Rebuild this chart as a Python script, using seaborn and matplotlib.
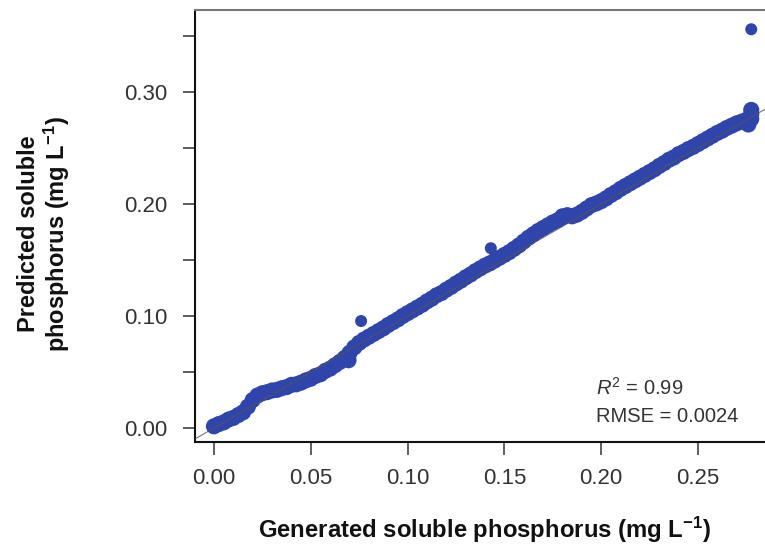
import matplotlib
matplotlib.use("Agg")
import matplotlib.pyplot as plt
import seaborn as sns
import pandas as pd

# Generated (x) vs predicted (y) soluble phosphorus, mg L-1
# Main band of points
generated = [
    0.0000, 0.0025, 0.0050, 0.0075, 0.0100, 0.0125, 0.0150, 0.0175, 0.0200, 0.0225,
    0.0250, 0.0275, 0.0300, 0.0325, 0.0350, 0.0375, 0.0400, 0.0425, 0.0450, 0.0475,
    0.0500, 0.0525, 0.0550, 0.0575, 0.0600, 0.0625, 0.0650, 0.0675, 0.0700, 0.0725,
    0.0750, 0.0775, 0.0800, 0.0825, 0.0850, 0.0875, 0.0900, 0.0925, 0.0950, 0.0975,
    0.1000, 0.1025, 0.1050, 0.1075, 0.1100, 0.1125, 0.1150, 0.1175, 0.1200, 0.1225,
    0.1250, 0.1275, 0.1300, 0.1325, 0.1350, 0.1375, 0.1400, 0.1425, 0.1450, 0.1475,
    0.1500, 0.1525, 0.1550, 0.1575, 0.1600, 0.1625, 0.1650, 0.1675, 0.1700, 0.1725,
    0.1750, 0.1775, 0.1800, 0.1825, 0.1850, 0.1875, 0.1900, 0.1925, 0.1950, 0.1975,
    0.2000, 0.2025, 0.2050, 0.2075, 0.2100, 0.2125, 0.2150, 0.2175, 0.2200, 0.2225,
    0.2250, 0.2275, 0.2300, 0.2325, 0.2350, 0.2375, 0.2400, 0.2425, 0.2450, 0.2475,
    0.2500, 0.2525, 0.2550, 0.2575, 0.2600, 0.2625, 0.2650, 0.2675, 0.2700, 0.2725,
    0.2750, 0.2775, 0.2775, 0.2775, 0.2760, 0.0695, 0.1800,
]
predicted = [
    0.0015, 0.0035, 0.0050, 0.0075, 0.0090, 0.0115, 0.0140, 0.0190, 0.0250, 0.0290,
    0.0310, 0.0320, 0.0335, 0.0340, 0.0355, 0.0365, 0.0385, 0.0390, 0.0405, 0.0425,
    0.0440, 0.0465, 0.0480, 0.0510, 0.0530, 0.0560, 0.0590, 0.0625, 0.0670, 0.0720,
    0.0760, 0.0790, 0.0815, 0.0840, 0.0865, 0.0890, 0.0920, 0.0945, 0.0970, 0.1000,
    0.1025, 0.1050, 0.1075, 0.1100, 0.1130, 0.1155, 0.1185, 0.1205, 0.1235, 0.1260,
    0.1290, 0.1315, 0.1345, 0.1370, 0.1400, 0.1425, 0.1450, 0.1470, 0.1495, 0.1520,
    0.1545, 0.1570, 0.1600, 0.1630, 0.1665, 0.1700, 0.1730, 0.1760, 0.1785, 0.1810,
    0.1835, 0.1855, 0.1880, 0.1900, 0.1890, 0.1905, 0.1930, 0.1960, 0.1990, 0.2005,
    0.2025, 0.2050, 0.2080, 0.2105, 0.2135, 0.2160, 0.2185, 0.2210, 0.2235, 0.2260,
    0.2285, 0.2310, 0.2340, 0.2365, 0.2395, 0.2415, 0.2445, 0.2465, 0.2490, 0.2510,
    0.2535, 0.2560, 0.2585, 0.2610, 0.2635, 0.2655, 0.2680, 0.2700, 0.2720, 0.2735,
    0.2750, 0.2760, 0.2800, 0.2840, 0.2710, 0.0605, 0.1890,
]
# Isolated points off the band
outlier_generated = [0.0760, 0.1430, 0.2775]
outlier_predicted = [0.0955, 0.1605, 0.3560]

x_ticks = [0.00, 0.05, 0.10, 0.15, 0.20, 0.25]
y_major = [0.00, 0.10, 0.20, 0.30]
y_minor = [0.05, 0.15, 0.25, 0.35]
stats_lines = ["$\\mathit{R}^{2}$ = 0.99", "RMSE = 0.0024"]

band = pd.DataFrame({"Generated": generated, "Predicted": predicted})
outliers = pd.DataFrame({"Generated": outlier_generated, "Predicted": outlier_predicted})

sns.set_style("white")
plt.rcParams["font.family"] = ["Liberation Sans", "DejaVu Sans"]
plt.rcParams["mathtext.fontset"] = "custom"
plt.rcParams["mathtext.rm"] = "Liberation Sans"
plt.rcParams["mathtext.it"] = "Liberation Sans:italic"
plt.rcParams["mathtext.bf"] = "Liberation Sans:bold"

fig = plt.figure(figsize=(7.65, 5.46), dpi=100)
ax = fig.add_axes([0.2549, 0.1905, 0.7451, 0.7912])

point_color = "#2f45ab"
sns.scatterplot(data=band, x="Generated", y="Predicted", ax=ax, color=point_color,
                s=135, edgecolor="none", linewidth=0, zorder=2)
sns.scatterplot(data=outliers, x="Generated", y="Predicted", ax=ax, color=point_color,
                s=75, edgecolor="none", linewidth=0, zorder=2)
ax.axline((0, 0), (1, 1), color="#555555", lw=0.8, alpha=0.8, zorder=3)

ax.set_xlim(-0.0098, 0.2846)
ax.set_ylim(-0.0125, 0.3732)

ax.set_xticks(x_ticks)
ax.set_xticklabels([f"{v:.2f}" for v in x_ticks])
ax.set_yticks(y_major)
ax.set_yticklabels([f"{v:.2f}" for v in y_major])
ax.set_yticks(y_minor, minor=True)

ax.tick_params(axis="both", which="both", direction="out", length=9, width=1.1,
               color="#333333", labelsize=16, labelcolor="#333333")
ax.tick_params(axis="y", which="both", pad=11, left=True)
ax.tick_params(axis="x", which="both", pad=10, bottom=True)

for side in ["left", "bottom"]:
    ax.spines[side].set_color("#111111")
    ax.spines[side].set_linewidth(1.5)
ax.spines["top"].set_color("#777777")
ax.spines["top"].set_linewidth(1.5)
ax.spines["right"].set_visible(False)

ax.set_xlabel("")
ax.set_ylabel("")
fig.text(0.633, (546 - 538) / 546, "Generated soluble phosphorus (mg L$^{\\mathbf{-1}}$)",
         ha="center", va="baseline", fontsize=17.2, fontweight="bold", color="#111111")
fig.text(0.058, 0.572, "Predicted soluble\nphosphorus (mg L$^{\\mathbf{-1}}$)",
         ha="center", va="center", rotation=90, fontsize=17, fontweight="bold",
         color="#111111", linespacing=1.1)

fig.text(0.779, (546 - 395) / 546, stats_lines[0], ha="left", va="baseline",
         fontsize=14.5, color="#333333")
fig.text(0.779, (546 - 422) / 546, stats_lines[1], ha="left", va="baseline",
         fontsize=14.5, color="#333333")

fig.savefig("out.png", dpi=100)
